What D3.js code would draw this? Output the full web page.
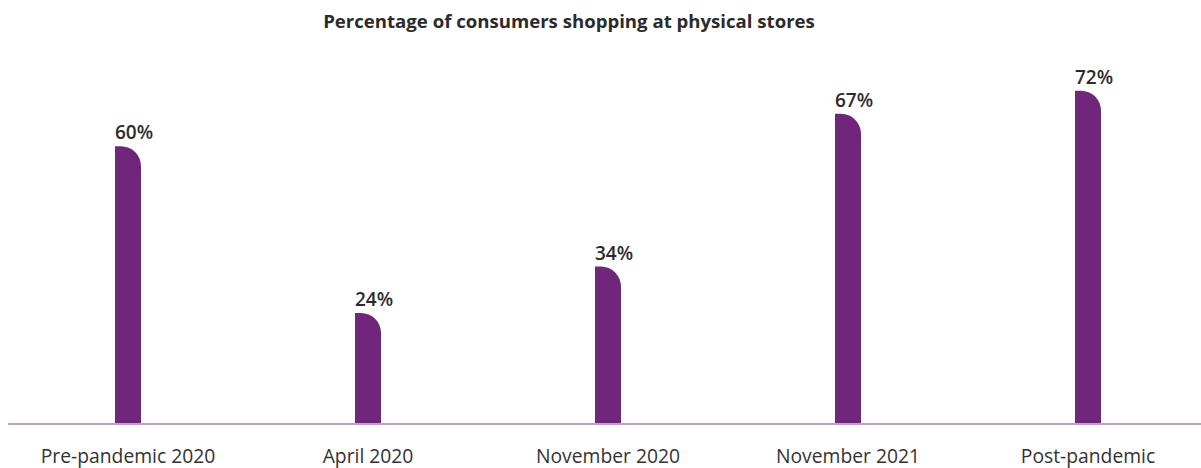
<!DOCTYPE html>
<html>
<head>
<meta charset="utf-8">
<script src="https://cdn.jsdelivr.net/npm/d3@7"></script>
<style>
    html, body { margin: 0; padding: 0; background: #ffffff; }
    svg { display: block; font-family: "Open Sans", "Noto Sans", sans-serif; }
</style>
</head>
<body>
<div id="chart"></div>
<script>
// Chart data
const categories = ['Pre-pandemic 2020', 'April 2020', 'November 2020', 'November 2021', 'Post-pandemic'];
const shares = [60, 24, 34, 67, 72];
const chartTitle = 'Percentage of consumers shopping at physical stores';

const BAR_COLOR = '#70267a';
const AXIS_COLOR = '#b8a5c8';
const TEXT_COLOR = '#2b2b2b';

document.addEventListener('DOMContentLoaded', function() {
    drawChart();
});

function drawChart() {
    const width = 1201;
    const height = 468;
    const baseline = 424;

    const svg = d3.select('#chart')
        .append('svg')
        .attr('width', width)
        .attr('height', height);

    const x = d3.scaleBand()
        .domain(categories)
        .range([8, 1208]);

    const y = d3.scaleLinear()
        .domain([0, 100])
        .range([baseline, baseline - 463]);

    const barWidth = 26;
    const radius = 20;

    const data = categories.map((c, i) => ({ category: c, value: shares[i] }));

    // Title
    svg.append('text')
        .attr('x', 569)
        .attr('y', 28)
        .attr('text-anchor', 'middle')
        .style('font-size', '18.6px')
        .style('font-weight', 700)
        .style('fill', TEXT_COLOR)
        .text(chartTitle);

    // Bars with rounded top-right corner
    svg.selectAll('path.bar')
        .data(data)
        .enter()
        .append('path')
        .attr('class', 'bar')
        .attr('fill', BAR_COLOR)
        .attr('d', d => {
            const x0 = x(d.category) + x.bandwidth() / 2 - barWidth / 2;
            const x1 = x0 + barWidth;
            const top = y(d.value);
            const r = Math.min(radius, baseline - top);
            return `M${x0},${baseline}V${top}H${x1 - r}` +
                `A${r},${r} 0 0 1 ${x1},${top + r}V${baseline}Z`;
        });

    // Axis line
    svg.append('line')
        .attr('x1', 8)
        .attr('x2', width)
        .attr('y1', baseline)
        .attr('y2', baseline)
        .attr('stroke', AXIS_COLOR)
        .attr('stroke-width', 2);

    // Value labels
    svg.selectAll('text.value')
        .data(data)
        .enter()
        .append('text')
        .attr('class', 'value')
        .attr('x', d => x(d.category) + x.bandwidth() / 2 + 6)
        .attr('y', d => y(d.value) - 7)
        .attr('text-anchor', 'middle')
        .style('font-size', '19px')
        .style('font-weight', 600)
        .style('fill', TEXT_COLOR)
        .text(d => d.value + '%');

    // Category labels
    svg.selectAll('text.category')
        .data(data)
        .enter()
        .append('text')
        .attr('class', 'category')
        .attr('x', d => x(d.category) + x.bandwidth() / 2)
        .attr('y', 463)
        .attr('text-anchor', 'middle')
        .style('font-size', '19.3px')
        .style('fill', '#333333')
        .text(d => d.category);
}
</script>
</body>
</html>
